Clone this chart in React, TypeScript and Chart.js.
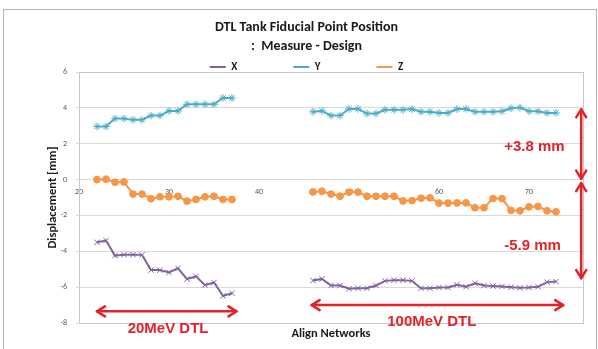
import { useEffect, useRef } from 'react';
import { Chart, registerables } from 'chart.js';

Chart.register(...registerables);

// Align network numbers (x positions) of the two DTL sections
const networks20MeV = [22, 23, 24, 25, 26, 27, 28, 29, 30, 31, 32, 33, 34, 35, 36, 37];
const networks100MeV = [46, 47, 48, 49, 50, 51, 52, 53, 54, 55, 56, 57, 58, 59, 60, 61, 62, 63, 64, 65, 66, 67, 68, 69, 70, 71, 72, 73];

// Displacement [mm], 20MeV DTL
const x20 = [-3.5, -3.4, -4.24, -4.19, -4.19, -4.2, -5.05, -5.05, -5.18, -4.95, -5.55, -5.4, -5.89, -5.74, -6.49, -6.34];
const y20 = [2.96, 2.96, 3.4, 3.4, 3.33, 3.33, 3.57, 3.57, 3.83, 3.83, 4.2, 4.2, 4.2, 4.2, 4.55, 4.55];
const z20 = [0, 0.02, -0.15, -0.13, -0.81, -0.81, -1.07, -0.96, -0.96, -0.93, -1.2, -1.11, -0.96, -0.93, -1.11, -1.11];

// Displacement [mm], 100MeV DTL
const x100 = [-5.63, -5.54, -5.91, -5.91, -6.09, -6.06, -6.06, -5.91, -5.65, -5.61, -5.61, -5.65, -6.06, -6.06, -6.02, -6.02, -5.87, -5.98, -5.78, -5.91, -5.94, -5.96, -6.0, -6.04, -6.02, -5.98, -5.72, -5.69];
const y100 = [3.78, 3.83, 3.57, 3.57, 3.94, 3.94, 3.68, 3.68, 3.89, 3.89, 3.89, 3.93, 3.78, 3.78, 3.72, 3.72, 3.93, 3.94, 3.78, 3.78, 3.78, 3.81, 3.98, 4.02, 3.81, 3.81, 3.72, 3.72];
const z100 = [-0.69, -0.65, -0.81, -0.93, -0.7, -0.7, -0.93, -0.93, -0.93, -0.93, -1.19, -1.17, -1.04, -1.02, -1.31, -1.31, -1.3, -1.3, -1.57, -1.57, -1.06, -1.06, -1.72, -1.74, -1.52, -1.5, -1.74, -1.8];

const seriesNames = ['X', 'Y', 'Z'];
const xTickValues = [20, 30, 40, 50, 60, 70];
const xRange = [20, 76];
const yRange = [-8, 6];
const yStep = 2;

// Annotations (data coordinates)
const hArrows = [
  { from: [22, -7.35], to: [37.5, -7.35] },
  { from: [45.85, -7.0], to: [73.8, -7.0] },
];
const vArrows = [
  { from: [75.8, 3.92], to: [75.8, 0.05] },
  { from: [75.8, -0.2], to: [75.8, -5.5] },
];
const annotationTexts = [
  { text: '+3.8 mm', at: [70.6, 1.85] },
  { text: '-5.9 mm', at: [70.4, -3.72] },
  { text: '20MeV DTL', at: [29.9, -8.35] },
  { text: '100MeV DTL', at: [59.2, -7.95] },
];

const FONT = 'Carlito, Lato, "Liberation Sans", sans-serif';
const RED = '#E3222A';

function pts(posA: number[], valA: number[], posB: number[], valB: number[]) {
  return [
    ...posA.map((p, i) => ({ x: p, y: valA[i] })),
    { x: (posA[posA.length - 1] + posB[0]) / 2, y: null },
    ...posB.map((p, i) => ({ x: p, y: valB[i] })),
  ];
}

const framePlugin = {
  id: 'frame',
  beforeDraw(chart: any) {
    const ctx = chart.ctx;
    ctx.save();
    ctx.fillStyle = '#ffffff';
    ctx.fillRect(0, 0, chart.width, chart.height);
    ctx.strokeStyle = '#B4B4B4';
    ctx.lineWidth = 1;
    ctx.strokeRect(3.5, 9.5, 593, 360);
    ctx.restore();
  },
  beforeDatasetsDraw(chart: any) {
    const { ctx, chartArea: a } = chart;
    ctx.save();
    ctx.strokeStyle = '#C8C8C8';
    ctx.lineWidth = 1;
    ctx.strokeRect(Math.round(a.left) + 0.5, Math.round(a.top) + 0.5, Math.round(a.right - a.left), Math.round(a.bottom - a.top));
    ctx.restore();
  },
};

function drawArrow(ctx: any, x1: number, y1: number, x2: number, y2: number) {
  const head = 8;
  const half = 5;
  const ang = Math.atan2(y2 - y1, x2 - x1);
  ctx.beginPath();
  ctx.moveTo(x1, y1);
  ctx.lineTo(x2, y2);
  ctx.stroke();
  const heads = [
    [x2, y2, ang],
    [x1, y1, ang + Math.PI],
  ];
  for (const [hx, hy, a] of heads) {
    const bx = hx - Math.cos(a) * head;
    const by = hy - Math.sin(a) * head;
    const px = -Math.sin(a) * half;
    const py = Math.cos(a) * half;
    ctx.beginPath();
    ctx.moveTo(bx + px, by + py);
    ctx.lineTo(hx, hy);
    ctx.lineTo(bx - px, by - py);
    ctx.stroke();
  }
}

const annotationPlugin = {
  id: 'annotations',
  afterDraw(chart: any) {
    const { ctx } = chart;
    const sx = chart.scales.x;
    const sy = chart.scales.y;
    ctx.save();
    ctx.strokeStyle = RED;
    ctx.lineWidth = 2.5;
    ctx.lineCap = 'round';
    ctx.lineJoin = 'round';
    for (const a of [...hArrows, ...vArrows]) {
      drawArrow(
        ctx,
        sx.getPixelForValue(a.from[0]),
        sy.getPixelForValue(a.from[1]),
        sx.getPixelForValue(a.to[0]),
        sy.getPixelForValue(a.to[1])
      );
    }
    ctx.fillStyle = RED;
    ctx.font = 'bold 15px "Liberation Sans", Arial, sans-serif';
    ctx.textAlign = 'center';
    ctx.textBaseline = 'middle';
    for (const t of annotationTexts) {
      ctx.fillText(t.text, sx.getPixelForValue(t.at[0]), sy.getPixelForValue(t.at[1]));
    }
    ctx.restore();
  },
};

export default function App() {
  const ref = useRef<HTMLCanvasElement | null>(null);

  useEffect(() => {
    document.body.style.margin = '0';
    const canvas = ref.current;
    if (!canvas) return;
    const colors = ['#8064A2', '#4BACC6', '#F79646'];
    const styles = ['crossRot', 'star', 'circle'];
    const data = [
      pts(networks20MeV, x20, networks100MeV, x100),
      pts(networks20MeV, y20, networks100MeV, y100),
      pts(networks20MeV, z20, networks100MeV, z100),
    ];
    const chart = new Chart(canvas, {
      type: 'line',
      data: {
        datasets: seriesNames.map((name, i) => ({
          label: name,
          data: data[i] as any,
          xAxisID: 'x',
          yAxisID: 'y',
          borderColor: colors[i],
          backgroundColor: colors[i],
          borderWidth: 2,
          pointStyle: styles[i] as any,
          pointRadius: i === 2 ? 3.4 : 3.8,
          pointBorderWidth: 1,
          pointBorderColor: colors[i],
          pointBackgroundColor: colors[i],
          spanGaps: false,
          tension: 0,
        })),
      },
      options: {
        animation: false,
        responsive: false,
        devicePixelRatio: 1,
        layout: { padding: { top: 5.5, left: 30, right: 15, bottom: 0 } },
        plugins: {
          tooltip: { enabled: false },
          title: {
            display: true,
            text: ['DTL Tank Fiducial Point Position', ':  Measure - Design'],
            color: '#1a1a1a',
            font: { family: FONT, size: 14, weight: 'bold', lineHeight: 19 / 14 },
            padding: { top: -54.5, bottom: 16.5 },
          },
          legend: {
            display: true,
            position: 'top',
            weight: 3000,
            maxHeight: 66.5,
            labels: {
              boxWidth: 16,
              boxHeight: 2,
              padding: 56,
              color: '#1a1a1a',
              font: { family: FONT, size: 11, weight: 'bold' },
              generateLabels: (c: any) =>
                Chart.defaults.plugins.legend.labels.generateLabels(c).map((l: any) => ({ ...l, lineWidth: 0 })),
            },
          } as any,
        },
        scales: {
          x: {
            type: 'linear',
            position: { y: 0 } as any,
            min: xRange[0],
            max: xRange[1],
            afterFit: (s: any) => {
              s.height = 0;
            },
            afterBuildTicks: (s: any) => {
              s.ticks = xTickValues.map((v) => ({ value: v }));
            },
            grid: { display: false, drawTicks: false },
            border: { display: true, color: '#D9D9D9' },
            ticks: { font: { family: FONT, size: 8 }, color: '#595959', padding: 8, maxRotation: 0, autoSkip: false },
          },
          x2: {
            type: 'linear',
            position: 'bottom',
            min: xRange[0],
            max: xRange[1],
            grid: { display: false, drawTicks: false },
            border: { display: false },
            ticks: { display: false },
            title: {
              display: true,
              text: 'Align Networks',
              color: '#1a1a1a',
              font: { family: FONT, size: 12.5, weight: 'bold', lineHeight: 1.2 },
              padding: { top: 3.5, bottom: 7.5 },
            },
          },
          y: {
            type: 'linear',
            min: yRange[0],
            max: yRange[1],
            afterFit: (s: any) => {
              s.width = 49;
            },
            ticks: { stepSize: yStep, font: { family: FONT, size: 8 }, color: '#595959', padding: 9 },
            grid: { color: '#D9D9D9', tickLength: 3 },
            border: { color: '#C8C8C8' },
            title: {
              display: true,
              text: 'Displacement [mm]',
              color: '#1a1a1a',
              font: { family: FONT, size: 12.5, weight: 'bold', lineHeight: 1.2 },
              padding: { top: 15.5, bottom: 0 },
            },
          },
        },
      },
      plugins: [framePlugin, annotationPlugin],
    });
    return () => chart.destroy();
  }, []);

  return (
    <div style={{ width: 598, height: 349 }}>
      <canvas ref={ref} width={598} height={349} style={{ display: 'block' }} />
    </div>
  );
}
